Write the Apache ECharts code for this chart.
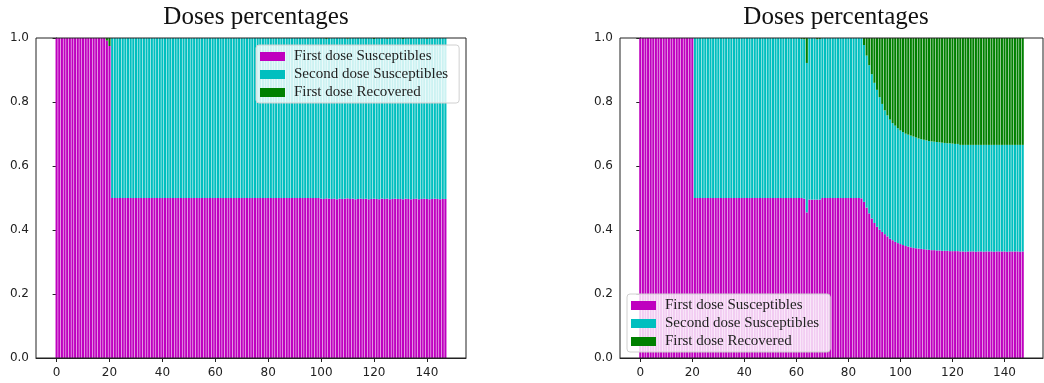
<!DOCTYPE html>
<html>
<head>
<meta charset="utf-8">
<script src="https://cdn.jsdelivr.net/npm/echarts@6/dist/echarts.min.js"></script>
<style>
  html, body { margin: 0; padding: 0; background: #fff; }
  #chart { width: 1044px; height: 383px; }
</style>
</head>
<body>
<div id="chart"></div>
<script>
// Day index of each bar (0..147)
const days = Array.from({ length: 148 }, (_, i) => i);

const seriesNames = ['First dose Susceptibles', 'Second dose Susceptibles', 'First dose Recovered'];
const xTicks = [0, 20, 40, 60, 80, 100, 120, 140];
const yTicks = [0, 0.2, 0.4, 0.6, 0.8, 1.0];
const chartTitle = 'Doses percentages';

// Left panel: fractions per day
const leftFirst = [
  1,1,1,1,1,1,1,1,1,1,
  1,1,1,1,1,1,1,1,1,0.992,
  0.975,0.5,0.5,0.5,0.5,0.5,0.5,0.5,0.5,0.5,
  0.5,0.5,0.5,0.5,0.5,0.5,0.5,0.5,0.5,0.5,
  0.5,0.5,0.5,0.5,0.5,0.5,0.5,0.5,0.5,0.5,
  0.5,0.5,0.5,0.5,0.5,0.5,0.5,0.5,0.5,0.5,
  0.5,0.5,0.5,0.5,0.5,0.5,0.5,0.5,0.5,0.5,
  0.5,0.5,0.5,0.5,0.5,0.5,0.5,0.5,0.5,0.5,
  0.5,0.5,0.5,0.5,0.5,0.5,0.5,0.5,0.5,0.5,
  0.5,0.5,0.5,0.5,0.5,0.5,0.5,0.5,0.5,0.5,
  0.498,0.497,0.499,0.498,0.497,0.498,0.496,0.498,0.497,0.498,
  0.499,0.497,0.498,0.496,0.497,0.498,0.497,0.498,0.496,0.497,
  0.498,0.497,0.496,0.498,0.497,0.498,0.496,0.497,0.498,0.497,
  0.497,0.496,0.498,0.497,0.496,0.497,0.498,0.496,0.497,0.498,
  0.497,0.496,0.497,0.498,0.497,0.496,0.497,0.497
];
const leftSecond = [
  0,0,0,0,0,0,0,0,0,0,
  0,0,0,0,0,0,0,0,0,0,
  0,0.5,0.5,0.5,0.5,0.5,0.5,0.5,0.5,0.5,
  0.5,0.5,0.5,0.5,0.5,0.5,0.5,0.5,0.5,0.5,
  0.5,0.5,0.5,0.5,0.5,0.5,0.5,0.5,0.5,0.5,
  0.5,0.5,0.5,0.5,0.5,0.5,0.5,0.5,0.5,0.5,
  0.5,0.5,0.5,0.5,0.5,0.5,0.5,0.5,0.5,0.5,
  0.5,0.5,0.5,0.5,0.5,0.5,0.5,0.5,0.5,0.5,
  0.5,0.5,0.5,0.5,0.5,0.5,0.5,0.5,0.5,0.5,
  0.5,0.5,0.5,0.5,0.5,0.5,0.5,0.5,0.5,0.5,
  0.502,0.503,0.498,0.502,0.503,0.502,0.504,0.502,0.503,0.502,
  0.499,0.503,0.502,0.504,0.503,0.502,0.503,0.502,0.504,0.503,
  0.499,0.503,0.504,0.502,0.503,0.500,0.504,0.503,0.502,0.503,
  0.503,0.501,0.502,0.503,0.504,0.503,0.502,0.504,0.503,0.502,
  0.501,0.504,0.503,0.502,0.503,0.504,0.503,0.503
];
const leftRecovered = [
  0,0,0,0,0,0,0,0,0,0,
  0,0,0,0,0,0,0,0,0,0.008,
  0.025,0,0,0,0,0,0,0,0,0,
  0,0,0,0,0,0,0,0,0,0,
  0,0,0,0,0,0,0,0,0,0,
  0,0,0,0,0,0,0,0,0,0,
  0,0,0,0,0,0,0,0,0,0,
  0,0,0,0,0,0,0,0,0,0,
  0,0,0,0,0,0,0,0,0,0,
  0,0,0,0,0,0,0,0,0,0,
  0,0,0.003,0,0,0,0,0,0,0,
  0.002,0,0,0,0,0,0,0,0,0,
  0.003,0,0,0,0,0.002,0,0,0,0,
  0,0.003,0,0,0,0,0,0,0,0,
  0.002,0,0,0,0,0,0,0
];

// Right panel: fractions per day
const rightFirst = [
  1,1,1,1,1,1,1,1,1,1,
  1,1,1,1,1,1,1,1,1,1,
  1,0.5,0.5,0.5,0.5,0.5,0.5,0.5,0.5,0.5,
  0.5,0.5,0.5,0.5,0.5,0.5,0.5,0.5,0.5,0.5,
  0.5,0.5,0.5,0.5,0.5,0.5,0.5,0.5,0.5,0.5,
  0.5,0.5,0.5,0.5,0.5,0.5,0.5,0.5,0.5,0.5,
  0.5,0.5,0.5,0.498,0.455,0.495,0.495,0.495,0.495,0.495,
  0.5,0.5,0.5,0.5,0.5,0.5,0.5,0.5,0.5,0.5,
  0.5,0.5,0.5,0.5,0.5,0.499,0.488,0.470,0.452,0.436,
  0.422,0.410,0.401,0.394,0.387,0.380,0.373,0.368,0.363,0.359,
  0.356,0.353,0.350,0.348,0.346,0.344,0.343,0.342,0.341,0.340,
  0.339,0.338,0.337,0.337,0.336,0.336,0.335,0.335,0.335,0.334,
  0.334,0.334,0.334,0.333,0.333,0.332,0.333,0.333,0.333,0.332,
  0.333,0.333,0.332,0.333,0.333,0.333,0.332,0.333,0.333,0.333,
  0.333,0.332,0.333,0.333,0.333,0.333,0.332,0.333
];
const rightSecond = [
  0,0,0,0,0,0,0,0,0,0,
  0,0,0,0,0,0,0,0,0,0,
  0,0.5,0.5,0.5,0.5,0.5,0.5,0.5,0.5,0.5,
  0.5,0.5,0.5,0.5,0.5,0.5,0.5,0.5,0.5,0.5,
  0.5,0.5,0.5,0.5,0.5,0.5,0.5,0.5,0.5,0.5,
  0.5,0.5,0.5,0.5,0.5,0.5,0.5,0.5,0.5,0.5,
  0.5,0.5,0.497,0.498,0.467,0.505,0.505,0.505,0.501,0.502,
  0.5,0.5,0.5,0.5,0.5,0.5,0.5,0.5,0.5,0.5,
  0.5,0.5,0.5,0.5,0.5,0.501,0.490,0.475,0.463,0.451,
  0.438,0.428,0.414,0.400,0.387,0.378,0.372,0.366,0.363,0.359,
  0.355,0.353,0.351,0.350,0.349,0.348,0.346,0.344,0.343,0.342,
  0.341,0.340,0.340,0.339,0.339,0.338,0.338,0.337,0.336,0.337,
  0.336,0.335,0.335,0.333,0.333,0.334,0.333,0.333,0.333,0.334,
  0.333,0.333,0.334,0.333,0.333,0.333,0.334,0.333,0.333,0.333,
  0.333,0.334,0.333,0.333,0.333,0.333,0.334,0.333
];
const rightRecovered = [
  0,0,0,0,0,0,0,0,0,0,
  0,0,0,0,0,0,0,0,0,0,
  0,0,0,0,0,0,0,0,0,0,
  0,0,0,0,0,0,0,0,0,0,
  0,0,0,0,0,0,0,0,0,0,
  0,0,0,0,0,0,0,0,0,0,
  0,0,0.003,0.004,0.078,0,0,0,0.004,0.003,
  0,0,0,0,0,0,0,0,0,0,
  0,0,0,0,0,0,0.022,0.055,0.085,0.113,
  0.140,0.162,0.185,0.206,0.226,0.242,0.255,0.266,0.274,0.282,
  0.289,0.294,0.299,0.302,0.305,0.308,0.311,0.314,0.316,0.318,
  0.320,0.322,0.323,0.324,0.325,0.326,0.327,0.328,0.329,0.329,
  0.330,0.331,0.331,0.334,0.334,0.334,0.334,0.334,0.334,0.334,
  0.334,0.334,0.334,0.334,0.334,0.334,0.334,0.334,0.334,0.334,
  0.334,0.334,0.334,0.334,0.334,0.334,0.334,0.334
];

const colors = ['#bf00bf', '#00bfbf', '#008000'];
const ink = '#222';
const tickFont = { fontFamily: 'DejaVu Sans', fontSize: 12, color: ink };
const serif = 'Liberation Serif';

const grids = [
  { left: 36, top: 38, width: 430, height: 320 },
  { left: 620, top: 38, width: 423, height: 320 }
];

// Rows are [fraction, day] so the fraction column is the one that gets stacked
function rows(values) {
  return days.map((d, i) => [values[i], d]);
}

function xAxisFor(gi) {
  return {
    type: 'value', gridIndex: gi, min: -7.79, max: 154.79,
    splitLine: { show: false },
    axisLine: { show: true, onZero: false, lineStyle: { color: ink, width: 1 } },
    axisTick: { show: true, length: 4, lineStyle: { color: ink }, customValues: xTicks },
    axisLabel: { ...tickFont, margin: 9, customValues: xTicks, formatter: v => String(v) }
  };
}
function yAxisFor(gi) {
  return {
    type: 'value', gridIndex: gi, min: 0, max: 1, interval: 0.2,
    splitLine: { show: false },
    axisLine: { show: true, lineStyle: { color: ink, width: 1 } },
    axisTick: { show: true, length: 4, lineStyle: { color: ink } },
    axisLabel: { ...tickFont, margin: 7, formatter: v => v.toFixed(1) }
  };
}

function barSeries(gi, values, k) {
  return {
    type: 'bar', name: seriesNames[k], xAxisIndex: gi, yAxisIndex: gi,
    stack: 'doses' + gi, barWidth: '80%', data: rows(values),
    encode: { x: 1, y: 0 },
    itemStyle: { color: colors[k] }, animation: false, silent: true
  };
}

function legendAt(left, top) {
  return {
    left, top, orient: 'vertical', icon: 'rect',
    itemWidth: 25, itemHeight: 9, itemGap: 3,
    selectedMode: false,
    backgroundColor: 'rgba(255,255,255,0.8)',
    borderColor: '#d0d0d0', borderWidth: 1, borderRadius: 3,
    padding: [4, 11, 3, 4],
    textStyle: { fontFamily: serif, fontSize: 15, color: ink, padding: [0, 0, 0, 4] },
    data: seriesNames
  };
}

const titleStyle = { fontFamily: serif, fontSize: 25, fontWeight: 'normal', color: '#111' };

const option = {
  animation: false,
  title: [
    { text: chartTitle, left: 251, top: 0, textAlign: 'center', textStyle: titleStyle },
    { text: chartTitle, left: 831, top: 0, textAlign: 'center', textStyle: titleStyle }
  ],
  grid: grids.map(g => ({ ...g, show: true, z: 10, backgroundColor: 'transparent',
                          borderColor: ink, borderWidth: 1 })),
  xAxis: [xAxisFor(0), xAxisFor(1)],
  yAxis: [yAxisFor(0), yAxisFor(1)],
  legend: [legendAt(256, 45), legendAt(627, 294)],
  series: [
    barSeries(0, leftFirst, 0), barSeries(0, leftSecond, 1), barSeries(0, leftRecovered, 2),
    barSeries(1, rightFirst, 0), barSeries(1, rightSecond, 1), barSeries(1, rightRecovered, 2)
  ]
};

const chart = echarts.init(document.getElementById('chart'), null, { renderer: 'canvas' });
chart.setOption(option);
</script>
</body>
</html>
